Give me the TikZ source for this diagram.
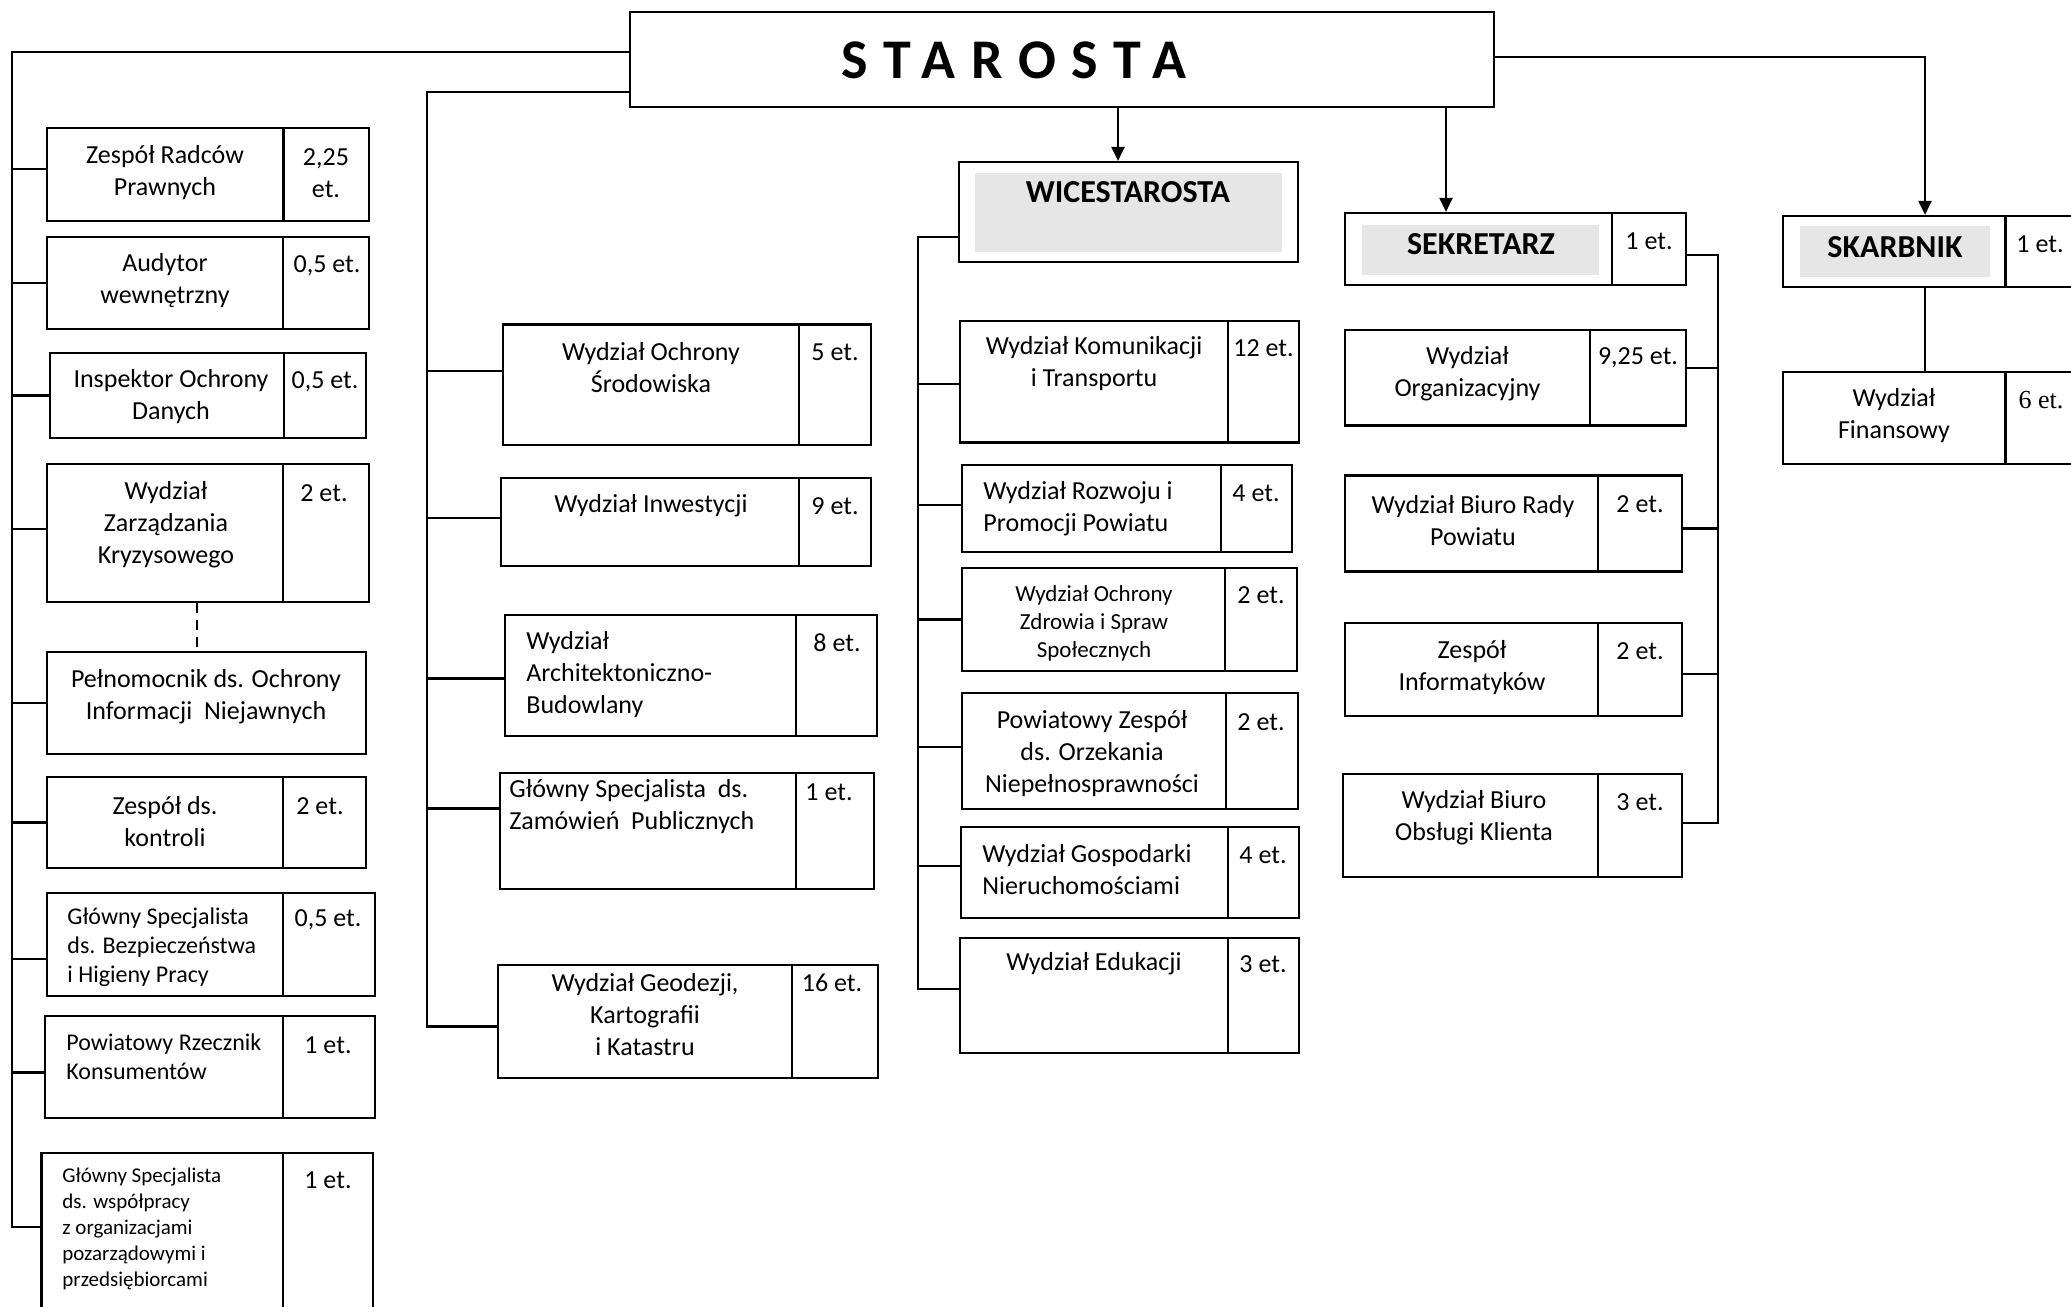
\documentclass[tikz,border=0pt]{standalone}
\usepackage{fontspec}
\setmainfont{Carlito}
\newfontfamily\etserif{Liberation Serif}
\usetikzlibrary{arrows.meta, calc}
\definecolor{headgray}{RGB}{230,230,230}

\tikzset{
  cellbox/.style={draw, line width=1.1pt, inner sep=0pt},
  txt/.style={inner sep=0pt, align=center, font=\fontsize{13}{16}\selectfont},
  ltxt/.style={txt, align=left, anchor=west},
  small/.style={font=\fontsize{12}{14.5}\selectfont},
  smaller/.style={font=\fontsize{10.5}{13}\selectfont},
  head/.style={inner sep=0pt, font=\fontsize{16}{18}\selectfont\bfseries},
  link/.style={line width=1.1pt},
  arr/.style={link, -{Triangle[length=7pt,width=6.5pt]}}
}

% box: name, x1, y1, x2, y2 (pixels, y down)
\newcommand{\orgbox}[5]{\node[cellbox, minimum width={(#4-#2)*0.5pt}, minimum height={(#5-#3)*0.5pt}] (#1) at ({(#2+#4)/2},{(#3+#5)/2}) {};}
% box with a column for the posts
\newcommand{\etbox}[6]{\orgbox{#1}{#2}{#3}{#4}{#5}\draw[link] (#6,#3) -- (#6,#5);}

\begin{document}
\begin{tikzpicture}[x=0.5pt,y=-0.5pt]
\clip (0,0) rectangle (2071,1306);
\useasboundingbox (0,0) rectangle (2071,1306);

% Starosta
\orgbox{staro}{630}{12}{1494}{107}
\node[inner sep=0pt, anchor=west, font=\fontsize{28}{30}\selectfont\bfseries\addfontfeature{LetterSpace=28}] (staro-t) at (841,60) {STAROSTA};

% Left column
\etbox{zrp}{47}{128}{369}{221}{283.5}
\node[txt] (zrp-t) at (165,172.5) {Zespół Radców\\Prawnych};
\node[txt] (zrp-e) at (326,173.5) {2,25\\et.};
\etbox{aud}{47}{237}{369}{329}{283}
\node[txt] (aud-t) at (165,281) {Audytor\\wewnętrzny};
\node[txt] (aud-e) at (327,265.5) {0,5 et.};
\etbox{iod}{50}{353}{366}{438}{284}
\node[txt] (iod-t) at (171,397) {Inspektor Ochrony\\Danych};
\node[txt] (iod-e) at (325,382) {0,5 et.};
\etbox{zk}{47}{464}{369}{602}{283}
\node[txt] (zk-t) at (166,525) {Wydział\\Zarządzania\\Kryzysowego};
\node[txt] (zk-e) at (324,493) {2 et.};
\orgbox{pel}{47}{652}{366}{754}
\node[txt] (pel-t) at (206,697) {Pełnomocnik ds. Ochrony\\Informacji~ Niejawnych};
\etbox{kon}{47}{777}{366}{868}{283}
\node[txt] (kon-t) at (165,822) {Zespół ds.\\kontroli};
\node[txt] (kon-e) at (320,806) {2 et.};
\etbox{bhp}{47}{893}{375}{996}{283}
\node[ltxt, small] (bhp-t) at (67,947.5) {Główny Specjalista\\ds. Bezpieczeństwa\\i Higieny Pracy};
\node[txt] (bhp-e) at (328,920) {0,5 et.};
\etbox{rzk}{45}{1016}{375}{1118}{283}
\node[ltxt, small] (rzk-t) at (66,1056.5) {Powiatowy Rzecznik\\Konsumentów};
\node[txt] (rzk-e) at (328,1045) {1 et.};
\etbox{wsp}{41.5}{1153}{373}{1330}{283}
\node[ltxt, smaller] (wsp-t) at (62,1229) {Główny Specjalista\\ds. współpracy\\z organizacjami\\pozarządowymi i\\przedsiębiorcami};
\node[txt] (wsp-e) at (328,1180) {1 et.};

% Middle column
\etbox{ochr}{503}{324.5}{871}{445}{799}
\node[txt] (ochr-t) at (651,368) {Wydział Ochrony\\Środowiska};
\node[txt] (ochr-e) at (835,352) {5 et.};
\etbox{inw}{501}{478}{871}{566}{799}
\node[txt] (inw-t) at (651,506) {Wydział Inwestycji};
\node[txt] (inw-e) at (835,506) {9 et.};
\etbox{arch}{505}{615}{877}{736}{796}
\node[ltxt] (arch-t) at (526,675) {Wydział\\Architektoniczno-\\Budowlany};
\node[txt] (arch-e) at (837,643) {8 et.};
\etbox{zam}{500}{773}{874}{889}{796}
\node[ltxt] (zam-t) at (509,807) {Główny Specjalista~ ds.\\Zamówień~ Publicznych};
\node[txt] (zam-e) at (829,792) {1 et.};
\etbox{geo}{498}{965}{878}{1078}{792}
\node[txt] (geo-t) at (645,1015) {Wydział Geodezji,\\Kartografii\\i Katastru};
\node[txt] (geo-e) at (832,983) {16 et.};

% Wicestarosta
\orgbox{wice}{959}{162}{1298}{262}
\fill[headgray] (975,173) rectangle (1282,251.5);
\node[head] (wice-t) at (1128,192) {WICESTAROSTA};
\etbox{kom}{960}{321}{1299}{442.5}{1228}
\node[txt] (kom-t) at (1094,364) {Wydział Komunikacji\\i Transportu};
\node[txt] (kom-e) at (1263.5,348) {12 et.};
\etbox{roz}{962}{465}{1292}{552}{1221}
\node[ltxt] (roz-t) at (983,508.5) {Wydział Rozwoju i\\Promocji Powiatu};
\node[txt] (roz-e) at (1256,493) {4 et.};
\etbox{zdr}{962}{568}{1297}{671}{1225}
\node[txt, font=\fontsize{11.5}{14}\selectfont] (zdr-t) at (1094,623) {Wydział Ochrony\\Zdrowia i Spraw\\Społecznych};
\node[txt] (zdr-e) at (1261,595) {2 et.};
\etbox{orz}{962}{693}{1298}{809}{1226}
\node[txt] (orz-t) at (1092,754) {Powiatowy Zespół\\ds. Orzekania\\Niepełnosprawności};
\node[txt] (orz-e) at (1261,722) {2 et.};
\etbox{gos}{961}{827}{1299}{918}{1228}
\node[ltxt] (gos-t) at (982,870) {Wydział Gospodarki\\Nieruchomościami};
\node[txt] (gos-e) at (1263,855) {4 et.};
\etbox{edu}{960}{938}{1299}{1053}{1228}
\node[txt] (edu-t) at (1094,964) {Wydział Edukacji};
\node[txt] (edu-e) at (1263,964) {3 et.};

% Sekretarz
\etbox{sek}{1345}{213}{1686}{285}{1612}
\fill[headgray] (1362,225) rectangle (1599,275);
\node[head] (sek-t) at (1481,244) {SEKRETARZ};
\node[txt] (sek-e) at (1649,241) {1 et.};
\etbox{org}{1345}{330}{1686}{425.5}{1590}
\node[txt] (org-t) at (1467.5,374) {Wydział\\Organizacyjny};
\node[txt] (org-e) at (1638,358) {9,25 et.};
\etbox{rad}{1345}{475.5}{1682}{571.5}{1598}
\node[txt] (rad-t) at (1473,521) {Wydział Biuro Rady\\Powiatu};
\node[txt] (rad-e) at (1640,504.5) {2 et.};
\etbox{inf}{1345}{623}{1682}{716}{1598}
\node[txt] (inf-t) at (1472,668) {Zespół\\Informatyków};
\node[txt] (inf-e) at (1640,651) {2 et.};
\etbox{obs}{1343}{774}{1682}{877}{1598}
\node[txt] (obs-t) at (1474,818) {Wydział Biuro\\Obsługi Klienta};
\node[txt] (obs-e) at (1640,802) {3 et.};

% Skarbnik
\etbox{skb}{1783}{216}{2110}{287}{2005.5}
\fill[headgray] (1800,226) rectangle (1990,276.5);
\node[head] (skb-t) at (1895,247) {SKARBNIK};
\node[txt] (skb-e) at (2040,244) {1 et.};
\etbox{fin}{1783}{372}{2110}{464}{2005.5}
\node[txt] (fin-t) at (1894,416) {Wydział\\Finansowy};
\node[txt, font=\fontsize{13}{16}\etserif] (fin-e) at (2041,400) {6 et.};

% Connections - left column
\coordinate (busL) at (12,52);
\draw[link] (staro.west |- busL) -- (busL) |- ([yshift=7.25pt]wsp.west);
\foreach \u/\s in {zrp/2.75, aud/0, iod/0, zk/2, pel/0, kon/0, bhp/-7.25, rzk/-2.75} {
    \coordinate (st) at ([yshift=\s pt]\u.west);
    \draw[link] (busL |- st) -- (st);
}
\coordinate (dsh) at (197,0);
\draw[link, dash pattern=on 5pt off 3.5pt] (zk.south -| dsh) -- (pel.north -| dsh);

% Connections - middle column
\coordinate (busM) at (427,92);
\draw[link] (staro.west |- busM) -- (busM) |- ([yshift=-2.5pt]geo.west);
\foreach \u/\s in {ochr/6.85, inw/2, arch/-1.5, zam/11.25} {
    \coordinate (st) at ([yshift=\s pt]\u.west);
    \draw[link] (busM |- st) -- (st);
}

% Connections - Wicestarosta
\coordinate (wArr) at (1118,0);
\draw[arr] (staro.south -| wArr) -- (wice.north -| wArr);
\coordinate (busW) at (918,237);
\draw[link] (wice.west |- busW) -- (busW) |- ([yshift=3.25pt]edu.west);
\foreach \u/\s in {kom/-1, roz/1.75, zdr/0, orz/2, gos/3.25} {
    \coordinate (st) at ([yshift=\s pt]\u.west);
    \draw[link] (busW |- st) -- (st);
}

% Connections - Sekretarz
\coordinate (sArr) at (1446,0);
\draw[arr] (staro.south -| sArr) -- (sek.north -| sArr);
\coordinate (busS) at (1718,255);
\draw[link] (sek.east |- busS) -- (busS) |- ([yshift=1.25pt]obs.east);
\foreach \u/\s in {org/5, rad/-2.5, inf/-2.25} {
    \coordinate (st) at ([yshift=\s pt]\u.east);
    \draw[link] (busS |- st) -- (st);
}

% Connections - Skarbnik
\coordinate (kArr) at (1925,57);
\draw[arr] (staro.east |- kArr) -| (skb.north -| kArr);
\draw[link] (skb.south -| kArr) -- (fin.north -| kArr);
\end{tikzpicture}
\end{document}
